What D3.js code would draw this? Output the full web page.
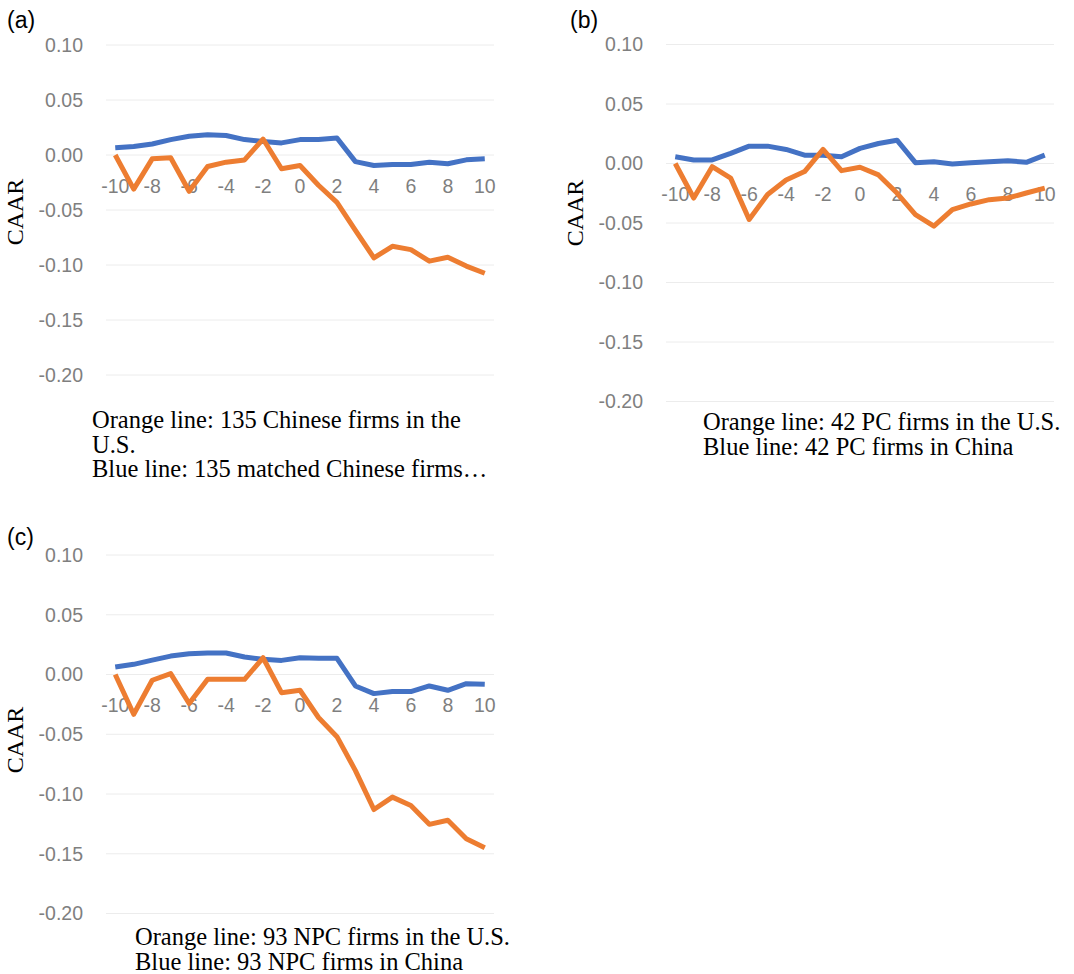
<!DOCTYPE html>
<html>
<head>
<meta charset="utf-8">
<script src="https://cdn.jsdelivr.net/npm/d3@7"></script>
<style>
  body { margin: 0; background: #fff; }
  svg { display: block; }
</style>
</head>
<body>
<div id="chart"></div>
<script>
// event days
const days = d3.range(-10, 11);
const xTickLabels = [-10, -8, -6, -4, -2, 0, 2, 4, 6, 8, 10];
const yTicks = [0.10, 0.05, 0.00, -0.05, -0.10, -0.15, -0.20];

// (a) all firms
const orangeA = [0.000, -0.031, -0.0035, -0.0025, -0.033, -0.0105, -0.0065, -0.0045, 0.0145, -0.0125, -0.0095,
                 -0.0275, -0.043, -0.0685, -0.0935, -0.083, -0.086, -0.0965, -0.093, -0.101, -0.1075];
const blueA = [0.0065, 0.0077, 0.010, 0.014, 0.017, 0.0185, 0.0177, 0.014, 0.0123, 0.011, 0.014,
               0.014, 0.0155, -0.006, -0.0095, -0.0086, -0.0086, -0.0065, -0.008, -0.0044, -0.0035];

// (b) PC firms
const orangeB = [0.000, -0.029, -0.0027, -0.0123, -0.047, -0.026, -0.0138, -0.0068, 0.0118, -0.006, -0.0032,
                 -0.0096, -0.0248, -0.043, -0.0527, -0.0388, -0.034, -0.0304, -0.029, -0.0248, -0.0207];
const blueB = [0.0057, 0.003, 0.003, 0.0085, 0.0146, 0.0146, 0.0118, 0.007, 0.007, 0.0057, 0.0127,
               0.0168, 0.0196, 0.0007, 0.0015, -0.0004, 0.0007, 0.0015, 0.0023, 0.001, 0.007];

// (c) NPC firms
const orangeC = [0.000, -0.0333, -0.0048, 0.0007, -0.0243, -0.004, -0.004, -0.004, 0.014, -0.0152, -0.0132,
                 -0.036, -0.052, -0.0804, -0.113, -0.1026, -0.1096, -0.1254, -0.122, -0.1374, -0.145];
const blueC = [0.0062, 0.0085, 0.012, 0.0154, 0.0173, 0.018, 0.018, 0.0146, 0.0127, 0.0118, 0.014,
               0.0135, 0.0135, -0.0096, -0.016, -0.0143, -0.0143, -0.0096, -0.0132, -0.0077, -0.0082];

const captionA = ["Orange line: 135 Chinese firms in the", "U.S.", "Blue line: 135 matched Chinese firms\u2026"];
const captionB = ["Orange line: 42 PC firms in the U.S.", "Blue line: 42 PC firms in China"];
const captionC = ["Orange line: 93 NPC firms in the U.S.", "Blue line: 93 NPC firms in China"];

const orange = "#ed7d31", blue = "#4472c4";

const svg = d3.select("#chart").append("svg")
    .attr("width", 1074)
    .attr("height", 974);

const panels = [
    {tag: "(a)", orange: orangeA, blue: blueA, caption: captionA,
     xr: [106, 494], yr: [375, 45], tagPos: [7, 28], caar: [15, 212], capX: 92, capY: 428},
    {tag: "(b)", orange: orangeB, blue: blueB, caption: captionB,
     xr: [666, 1054], yr: [401.5, 44.5], tagPos: [570, 28], caar: [575, 213], capX: 703, capY: 430},
    {tag: "(c)", orange: orangeC, blue: blueC, caption: captionC,
     xr: [106, 494], yr: [913.5, 555], tagPos: [7, 545], caar: [15, 740], capX: 135, capY: 945}
];

panels.forEach(p => drawPanel(p));

function drawPanel(p) {
    let x = d3.scaleLinear().domain([-10.5, 10.5]).range(p.xr);
    let y = d3.scaleLinear().domain([-0.2, 0.1]).range(p.yr);
    let g = svg.append("g");

    // gridlines
    g.selectAll(".grid")
        .data(yTicks)
        .enter().append("line")
        .attr("x1", p.xr[0]).attr("x2", p.xr[1])
        .attr("y1", d => y(d)).attr("y2", d => y(d))
        .attr("stroke", "#ececec")
        .attr("stroke-width", 1);

    // y tick labels
    g.selectAll(".ylab")
        .data(yTicks)
        .enter().append("text")
        .attr("x", p.xr[0] - 23)
        .attr("y", d => y(d))
        .attr("dy", "0.35em")
        .attr("text-anchor", "end")
        .attr("font-family", "Liberation Sans, Arial, sans-serif")
        .attr("font-size", 19.5)
        .attr("fill", "#7f7f7f")
        .text(d => d.toFixed(2));

    // x tick labels sit just under the zero line
    g.selectAll(".xlab")
        .data(xTickLabels)
        .enter().append("text")
        .attr("x", d => x(d))
        .attr("y", y(0) + 31)
        .attr("dy", "0.35em")
        .attr("text-anchor", "middle")
        .attr("font-family", "Liberation Sans, Arial, sans-serif")
        .attr("font-size", 19.5)
        .attr("fill", "#7f7f7f")
        .text(d => d);

    let line = d3.line()
        .x((d, i) => x(days[i]))
        .y(d => y(d));

    g.append("path")
        .datum(p.blue)
        .attr("d", line)
        .attr("fill", "none")
        .attr("stroke", blue)
        .attr("stroke-width", 5)
        .attr("stroke-linejoin", "round");

    g.append("path")
        .datum(p.orange)
        .attr("d", line)
        .attr("fill", "none")
        .attr("stroke", orange)
        .attr("stroke-width", 5)
        .attr("stroke-linejoin", "round");

    // axis title
    g.append("text")
        .attr("transform", `translate(${p.caar[0]}, ${p.caar[1]}) rotate(-90)`)
        .attr("dy", "0.35em")
        .attr("text-anchor", "middle")
        .attr("font-family", "Liberation Serif, Times New Roman, serif")
        .attr("font-size", 24)
        .attr("fill", "#000")
        .text("CAAR");

    // panel tag
    g.append("text")
        .attr("x", p.tagPos[0])
        .attr("y", p.tagPos[1])
        .attr("font-family", "Liberation Sans, Arial, sans-serif")
        .attr("font-size", 23)
        .attr("fill", "#000")
        .text(p.tag);

    // caption
    g.selectAll(".cap")
        .data(p.caption)
        .enter().append("text")
        .attr("x", p.capX)
        .attr("y", (d, i) => p.capY + i * 24.5)
        .attr("font-family", "Liberation Serif, Times New Roman, serif")
        .attr("font-size", 24.5)
        .attr("fill", "#000")
        .text(d => d);
}
</script>
</body>
</html>
